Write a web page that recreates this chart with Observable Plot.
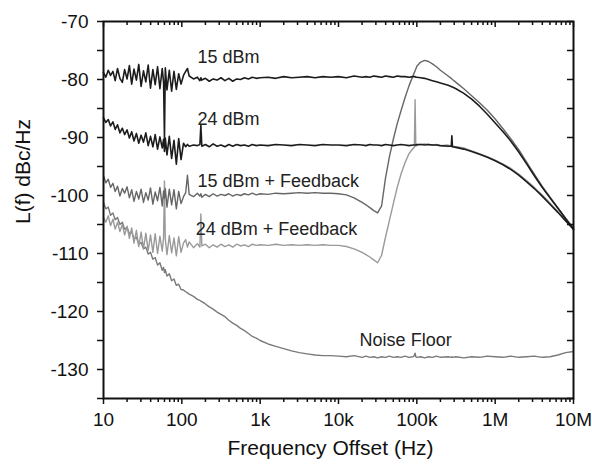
<!DOCTYPE html>
<html>
<head>
<meta charset="utf-8">
<script src="https://cdn.jsdelivr.net/npm/d3@7"></script>
<script src="https://cdn.jsdelivr.net/npm/@observablehq/plot@0.6"></script>
<style>
  html, body { margin: 0; padding: 0; background: #fff; }
  #chart { width: 592px; height: 469px; }
</style>
</head>
<body>
<div id="chart"></div>
<script>
// Frequency offset grid (Hz)
const freqs = [
  10, 10.7, 11.5, 12.3, 13.2, 14.1, 15.1, 16.2, 17.4, 18.6,
  20, 21.4, 22.9, 24.5, 26.3, 28.2, 30.2, 32.4, 34.7, 37.2,
  39.8, 42.7, 45.7, 49, 52.5, 56.2, 58.5, 60, 61.5, 64.6,
  69.2, 74.1, 79.4, 85.1, 91.2, 97.7, 105, 112, 118, 124,
  141, 158, 170, 175, 180, 200, 224, 251, 282, 316,
  355, 398, 447, 501, 562, 631, 708, 794, 891, 1000,
  1260, 1580, 2000, 2510, 3160, 3980, 5010, 6310, 7940, 10000,
  12600, 15800, 20000, 22400, 25100, 28200, 31600, 35500, 39800, 44700,
  50100, 56200, 63100, 70800, 79400, 89100, 93000, 95000, 97000, 100000,
  112000, 126000, 141000, 158000, 178000, 200000, 251000, 275000, 280000, 285000,
  316000, 398000, 501000, 631000, 794000, 1000000, 1260000, 1580000, 2000000, 2510000,
  3160000, 3980000, 5010000, 6310000, 7940000, 10000000
];

// 15 dBm
const s15 = [
  -78.8, -79.6, -78.4, -79.3, -78.6, -80.2, -78.1, -79.8, -80.5, -78.3,
  -79.9, -77.6, -80.8, -78.2, -80.1, -77.4, -81.2, -78.5, -80.4, -77.5,
  -81.5, -78.3, -80.9, -77.8, -81.6, -78.1, -80.5, -90.2, -78.0, -81.8,
  -78.4, -82.0, -78.6, -81.7, -79.0, -80.8, -79.3, -78.6, -78.1, -79.4,
  -79.9, -79.6, -80.2, -79.7, -80.1, -79.8, -80.3, -79.9, -80.1, -79.7,
  -80.2, -79.8, -80.3, -79.9, -80.0, -79.7, -79.9, -79.6, -79.8, -79.7,
  -79.6, -79.8, -79.5, -79.7, -79.6, -79.5, -79.7, -79.5, -79.6, -79.5,
  -79.7, -79.4, -79.6, -79.5, -79.6, -79.4, -79.5, -79.6, -79.4, -79.5,
  -79.6, -79.4, -79.5, -79.5, -79.6, -79.5, -79.5, -79.5, -79.6, -79.6,
  -79.7, -79.8, -80.0, -80.2, -80.4, -80.6, -81.0, -81.2, -81.3, -81.3,
  -81.6, -82.4, -83.4, -84.6, -86.0, -87.5, -89.0, -90.6, -92.5, -94.5,
  -96.6, -98.6, -100.4, -102.2, -104.0, -105.8
];

// 24 dBm
const s24 = [
  -86.6, -87.4, -86.9, -88.0, -87.3, -88.6, -87.8, -89.2, -88.4, -89.5,
  -88.7, -90.1, -89.0, -90.6, -89.3, -91.0, -89.6, -90.8, -89.2, -91.4,
  -89.8, -91.6, -89.5, -92.0, -89.9, -91.8, -90.3, -92.4, -90.1, -93.0,
  -89.8, -93.6, -90.5, -94.6, -90.2, -93.8, -91.0, -91.6, -91.2, -91.5,
  -91.3, -91.4, -91.2, -87.9, -91.5, -91.2, -91.6, -91.1, -91.5, -91.3,
  -91.6, -91.2, -91.5, -91.2, -91.4, -91.3, -91.5, -91.2, -91.4, -91.3,
  -91.4, -91.2, -91.3, -91.4, -91.2, -91.3, -91.4, -91.2, -91.3, -91.3,
  -91.4, -91.2, -91.3, -91.4, -91.2, -91.3, -91.3, -91.4, -91.2, -91.3,
  -91.4, -91.3, -91.2, -91.3, -91.4, -91.3, -91.3, -91.3, -91.3, -91.2,
  -91.2, -91.3, -91.2, -91.3, -91.3, -91.4, -91.5, -91.5, -89.7, -91.6,
  -91.7, -92.0, -92.4, -92.9, -93.4, -94.0, -94.7, -95.5, -96.5, -97.6,
  -98.8, -100.1, -101.5, -102.9, -104.4, -105.8
];

// 15 dBm + Feedback
const f15 = [
  -96.6, -97.8, -97.2, -98.6, -97.9, -99.3, -98.4, -100.1, -98.8, -99.6,
  -98.5, -100.4, -99.0, -101.0, -99.3, -100.6, -98.9, -101.2, -99.5, -100.8,
  -98.7, -101.5, -99.4, -100.9, -98.6, -101.8, -99.2, -100.5, -98.8, -102.0,
  -98.9, -101.6, -99.0, -102.3, -99.3, -101.4, -100.2, -99.5, -96.5, -99.8,
  -100.2, -99.6, -100.1, -99.7, -100.3, -99.8, -100.2, -99.7, -100.1, -99.8,
  -100.0, -99.7, -100.1, -99.8, -100.0, -99.7, -99.9, -99.6, -99.9, -99.7,
  -99.8, -99.6, -99.7, -99.6, -99.5, -99.6, -99.5, -99.6, -99.6, -99.7,
  -99.9, -100.4, -101.2, -101.6, -102.1, -102.6, -103.0, -101.8, -97.0, -93.3,
  -90.3, -87.6, -85.3, -83.1, -81.1, -79.4, -78.8, -78.5, -78.2, -77.7,
  -77.0, -76.7, -76.9, -77.3, -77.8, -78.4, -79.4, -79.8, -79.9, -80.0,
  -80.5, -81.6, -82.8, -84.0, -85.3, -86.8, -88.5, -90.2, -92.1, -94.2,
  -96.3, -98.4, -100.3, -102.1, -103.9, -105.6
];

// 24 dBm + Feedback
const f24 = [
  -103.8, -104.6, -103.5, -105.2, -104.1, -105.8, -104.6, -106.2, -105.0, -106.8,
  -105.3, -107.4, -105.6, -108.2, -106.0, -108.8, -106.3, -109.2, -106.5, -109.5,
  -106.8, -109.8, -106.6, -110.0, -107.0, -109.6, -107.2, -97.5, -107.5, -110.2,
  -106.9, -109.9, -107.3, -110.4, -107.1, -109.8, -108.2, -107.6, -108.9, -108.0,
  -109.0, -108.3, -108.9, -103.2, -108.7, -108.4, -109.0, -108.5, -108.9, -108.4,
  -108.8, -108.5, -108.9, -108.4, -108.7, -108.5, -108.8, -108.4, -108.6, -108.5,
  -108.6, -108.4, -108.6, -108.5, -108.6, -108.5, -108.6, -108.5, -108.6, -108.6,
  -108.8, -109.2, -109.8, -110.2, -110.6, -111.1, -111.6, -110.3, -107.2, -104.3,
  -101.4, -98.6, -96.2, -94.3, -92.8, -91.9, -91.7, -83.5, -91.5, -91.4,
  -91.2, -91.1, -91.2, -91.3, -91.2, -91.4, -91.3, -91.5, -91.6, -91.5,
  -91.6, -91.8, -92.3, -92.8, -93.3, -93.9, -94.6, -95.3, -96.3, -97.4,
  -98.6, -99.9, -101.3, -102.8, -104.3, -105.9
];

// Noise floor
const nf = [
  -101.2, -102.3, -102.0, -103.4, -103.0, -104.2, -103.8, -105.0, -104.6, -105.8,
  -105.5, -106.6, -106.2, -107.5, -107.2, -108.4, -108.1, -109.2, -108.9, -110.1,
  -109.8, -111.0, -110.7, -112.0, -111.6, -112.9, -112.4, -113.3, -112.8, -113.9,
  -113.5, -114.7, -114.4, -115.5, -115.3, -116.2, -116.3, -116.6, -116.8, -117.0,
  -117.4, -117.9, -118.1, -118.2, -118.3, -118.7, -119.2, -119.6, -120.1, -120.5,
  -120.9, -121.5, -122.0, -122.4, -122.9, -123.3, -123.8, -124.3, -124.6, -125.0,
  -125.6, -126.0, -126.4, -126.8, -127.1, -127.3, -127.5, -127.6, -127.6, -127.7,
  -127.8, -127.6, -127.9, -127.7, -127.9, -127.8, -128.0, -127.8, -127.9, -127.7,
  -127.9, -127.8, -127.9, -127.7, -127.9, -127.8, -127.6, -127.2, -127.8, -127.9,
  -127.8, -128.0, -127.8, -127.9, -127.7, -127.9, -127.8, -127.9, -127.8, -127.9,
  -127.8, -128.0, -127.8, -127.9, -127.7, -127.8, -127.9, -127.7, -127.9, -127.8,
  -127.7, -127.9, -127.8, -127.5, -127.1, -126.9
];

// Curve labels (text, frequency, level)
const labelText = ["15 dBm", "24 dBm", "15 dBm + Feedback", "24 dBm + Feedback", "Noise Floor"];
const labelFreq = [158, 158, 158, 150, 18600];
const labelLevel = [-76.1, -86.9, -97.6, -105.9, -125.0];

// Axis ticks
const xMajor = [10, 100, 1e3, 1e4, 1e5, 1e6, 1e7];
const xTickLabels = ["10", "100", "1k", "10k", "100k", "1M", "10M"];
const xMinorMult = [2, 3, 4, 5, 6, 7, 8, 9];
const yMajor = [-130, -120, -110, -100, -90, -80, -70];
const yMinor = [-135, -125, -115, -105, -95, -85, -75];

const xMinor = xMajor.slice(0, -1).flatMap(d => xMinorMult.map(m => d * m));
const yAll = [...yMajor, ...yMinor];

const toRows = vals => freqs.map((f, i) => ({f, L: vals[i]}));
const labels = labelText.map((t, i) => ({text: t, f: labelFreq[i], L: labelLevel[i]}));

const W = 592, H = 469, ML = 103, MR = 19, MT = 21, MB = 71;
const innerW = W - ML - MR, innerH = H - MT - MB;

const chart = Plot.plot({
  width: W,
  height: H,
  marginLeft: ML,
  marginRight: MR,
  marginTop: MT,
  marginBottom: MB,
  style: {fontFamily: "'Liberation Sans', Arial, Helvetica, sans-serif", fontSize: "19px", color: "#111", background: "#fff", overflow: "visible"},
  x: {type: "log", domain: [10, 1e7]},
  y: {domain: [-135, -70]},
  marks: [
    // curves
    Plot.line(toRows(nf), {x: "f", y: "L", stroke: "#7a7a7a", strokeWidth: 1.4}),
    Plot.line(toRows(f24), {x: "f", y: "L", stroke: "#9a9a9a", strokeWidth: 1.4}),
    Plot.line(toRows(f15), {x: "f", y: "L", stroke: "#666", strokeWidth: 1.4}),
    Plot.line(toRows(s24), {x: "f", y: "L", stroke: "#1c1c1c", strokeWidth: 1.6}),
    Plot.line(toRows(s15), {x: "f", y: "L", stroke: "#1c1c1c", strokeWidth: 1.6}),
    // curve labels
    Plot.text(labels, {x: "f", y: "L", text: "text", textAnchor: "start", fontSize: 18, fill: "#222"}),
    // left axis (outward ticks)
    Plot.axisY({anchor: "left", ticks: yMajor, tickSize: 6, tickPadding: 9, tickFormat: d => String(d), label: null, strokeWidth: 1.5}),
    Plot.axisY({anchor: "left", ticks: yMinor, tickSize: 6, tickFormat: () => "", label: null, strokeWidth: 1.5}),
    // bottom axis (outward ticks)
    Plot.axisX({anchor: "bottom", ticks: xMajor, tickSize: 6, tickPadding: 8, tickFormat: d => xTickLabels[xMajor.indexOf(d)], label: null, strokeWidth: 1.5}),
    Plot.axisX({anchor: "bottom", ticks: xMinor, tickSize: 4, tickFormat: () => "", label: null, strokeWidth: 1.5}),
    // right axis (inward ticks)
    Plot.tickY(yAll, {y: d => d, insetLeft: innerW - 6, stroke: "#111", strokeWidth: 1.5}),
    // top axis (inward ticks)
    Plot.tickX(xMajor, {x: d => d, insetBottom: innerH - 6, stroke: "#111", strokeWidth: 1.5}),
    Plot.tickX(xMinor, {x: d => d, insetBottom: innerH - 4, stroke: "#111", strokeWidth: 1.5}),
    // frame
    Plot.frame({stroke: "#111", strokeWidth: 2}),
    // axis titles
    Plot.text(["L(f) dBc/Hz"], {frameAnchor: "left", text: d => d, rotate: -90, dx: -80, dy: 14, fontSize: 21, fill: "#111"}),
    Plot.text(["Frequency Offset (Hz)"], {frameAnchor: "bottom", text: d => d, dx: -8, dy: 56, fontSize: 21, fill: "#111"})
  ]
});

document.getElementById("chart").appendChild(chart);
</script>
</body>
</html>
